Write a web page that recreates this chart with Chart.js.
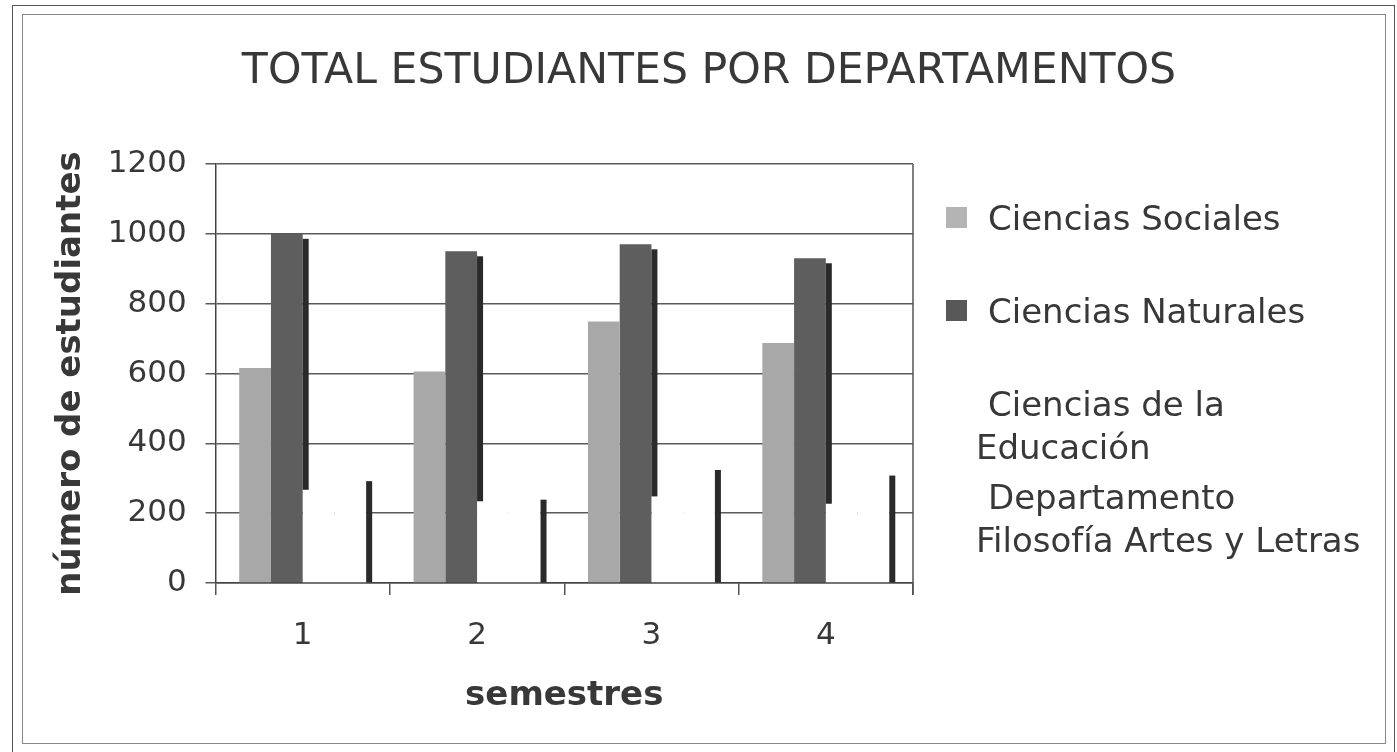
<!DOCTYPE html>
<html>
<head>
<meta charset="utf-8">
<script src="https://cdn.jsdelivr.net/npm/chart.js@4/dist/chart.umd.min.js"></script>
<style>
    body { margin: 0; background: #fff; }
    #wrap { position: relative; width: 1397px; height: 752px; overflow: hidden; font-family: 'DejaVu Sans', Verdana, sans-serif; }
    #chart { position: absolute; left: 0; top: 0; }
    .frame { position: absolute; box-sizing: border-box; }
    #outer { left: 12px; top: 5px; width: 1383px; height: 800px; border: 1.5px solid #555; }
    #inner { left: 22px; top: 14px; width: 1364px; height: 730px; border: 1.5px solid #888; }
    #title { position: absolute; left: 209px; width: 1000px; top: 43px; text-align: center; font-size: 42.6px; line-height: 51px; color: #383838; white-space: nowrap; }
    .leg { position: absolute; left: 976px; width: 400px; font-size: 34px; line-height: 42.5px; color: #383838; text-indent: 12px; }
    .sw { position: absolute; left: 946px; width: 21px; height: 21px; }
</style>
</head>
<body>
<div id="wrap">
    <div class="frame" id="outer"></div>
    <div class="frame" id="inner"></div>
    <canvas id="chart" width="1397" height="752"></canvas>
    <div id="title">TOTAL ESTUDIANTES POR DEPARTAMENTOS</div>
    <div id="legend"></div>
</div>
<script>
const semestres = ['1', '2', '3', '4'];
const cienciasSociales = [616, 606, 749, 687];
const cienciasNaturales = [1000, 950, 970, 930];
const cienciasEducacion = [267, 234, 248, 227];
const filosofiaArtes = [306, 253, 338, 322];
const yTicks = [0, 200, 400, 600, 800, 1000, 1200];

const textColor = '#383838';
Chart.defaults.font.family = "'DejaVu Sans', Verdana, sans-serif";

// dark strip on the right side of each bar, hidden behind the next bar of the group
const barShadow = {
    id: 'barShadow',
    afterDatasetsDraw(chart) {
        const c = chart.ctx;
        const metas = chart.data.datasets.map((_, i) => chart.getDatasetMeta(i));
        c.save();
        c.fillStyle = '#2a2a2a';
        metas.forEach((meta, i) => {
            meta.data.forEach((el, j) => {
                const p = el.getProps(['x', 'y', 'base', 'width'], true);
                let bottom = p.base;
                if (i + 1 < metas.length) {
                    bottom = Math.min(bottom, metas[i + 1].data[j].getProps(['y'], true).y);
                }
                const top = p.y + 5;
                if (bottom > top) c.fillRect(p.x + p.width / 2, top, 6, bottom - top);
            });
        });
        c.restore();
    }
};

const plotFrame = {
    id: 'plotFrame',
    afterDraw(chart) {
        const a = chart.chartArea;
        const c = chart.ctx;
        c.save();
        c.strokeStyle = '#555';
        c.lineWidth = 1.5;
        c.beginPath();
        c.moveTo(a.right, a.top);
        c.lineTo(a.right, a.bottom + 12);
        c.stroke();
        c.restore();
    }
};

const ctx = document.getElementById('chart').getContext('2d');
const chart = new Chart(ctx, {
    type: 'bar',
    data: {
        labels: semestres,
        datasets: [
            { label: 'Ciencias Sociales', data: cienciasSociales, backgroundColor: '#a8a8a8', legendColor: '#b4b4b4' },
            { label: 'Ciencias Naturales', data: cienciasNaturales, backgroundColor: '#5e5e5e', legendColor: '#585858' },
            { label: 'Ciencias de la Educación', data: cienciasEducacion, backgroundColor: '#ffffff', legendColor: null },
            { label: 'Departamento Filosofía Artes y Letras', data: filosofiaArtes, backgroundColor: '#ffffff', legendColor: null }
        ].map(d => Object.assign(d, { borderWidth: 0, categoryPercentage: 0.728, barPercentage: 1.0 }))
    },
    options: {
        responsive: false,
        animation: false,
        layout: { padding: { left: 40, right: 484, top: 164, bottom: 20 } },
        plugins: {
            legend: { display: false },
            tooltip: { enabled: false },
            title: { display: false }
        },
        scales: {
            x: {
                grid: { offset: true, drawOnChartArea: false, tickLength: 12, color: '#555', lineWidth: 1.5 },
                border: { color: '#444', width: 1.5 },
                ticks: { color: textColor, font: { size: 31 }, padding: 22 },
                title: { display: true, text: 'semestres', color: textColor, font: { size: 34, weight: 'bold' }, padding: { top: 0, bottom: 15.6 } },
                afterFit: s => { s.height = 149; }
            },
            y: {
                min: 0,
                max: 1200,
                afterBuildTicks: s => { s.ticks = yTicks.map(v => ({ value: v })); },
                grid: { color: '#5a5a5a', lineWidth: 1.5, tickLength: 10 },
                border: { color: '#444', width: 1.5 },
                ticks: { color: textColor, font: { size: 31 }, padding: 18.8, callback: v => String(v) },
                title: { display: true, text: 'número de estudiantes', color: textColor, font: { size: 34, weight: 'bold' }, padding: { top: 11.1, bottom: 0 } },
                afterFit: s => { s.width = 175.5; }
            }
        }
    },
    plugins: [barShadow, plotFrame]
});

// legend with wrapped labels, built from the datasets
const legend = document.getElementById('legend');
chart.data.datasets.forEach((ds, i) => {
    const top = 197 + i * 93;
    if (ds.legendColor) {
        const sw = document.createElement('div');
        sw.className = 'sw';
        sw.style.top = (top + 10) + 'px';
        sw.style.background = ds.legendColor;
        legend.appendChild(sw);
    }
    const t = document.createElement('div');
    t.className = 'leg';
    t.style.top = top + 'px';
    t.textContent = ds.label;
    legend.appendChild(t);
});
</script>
</body>
</html>
